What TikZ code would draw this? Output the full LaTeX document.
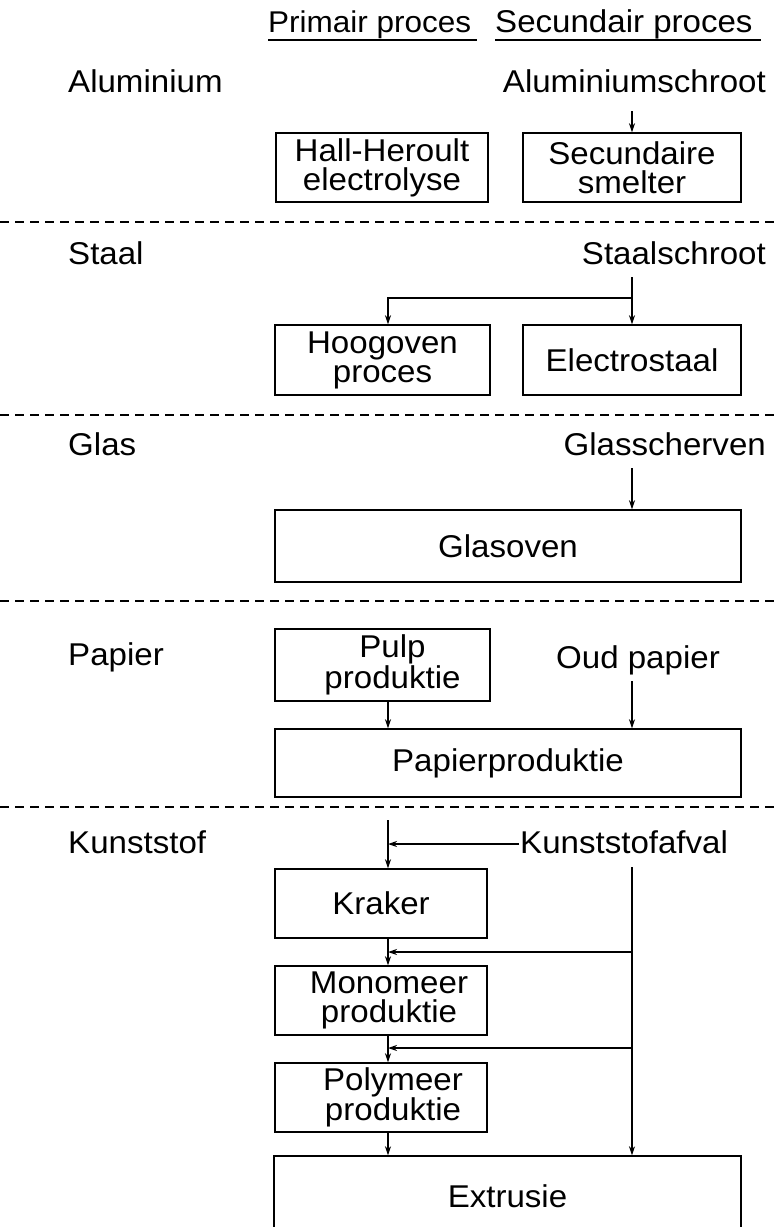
\documentclass[tikz,border=0pt]{standalone}
\usepackage{fontspec}
\setmainfont[FakeStretch=1.05]{Liberation Sans}
\usetikzlibrary{arrows.meta}
\begin{document}
\begin{tikzpicture}[x=1pt,y=-1pt,
  lbl/.style={inner sep=0pt, font=\fontsize{31.5}{29}\selectfont},
  box/.style={draw, line width=1.4pt, inner sep=0pt, align=center, font=\fontsize{31.5}{29}\selectfont},
  narrowbox/.style={box, minimum width=212pt, minimum height=69pt},
  widebox/.style={box, minimum width=466pt, minimum height=70pt},
  arr/.style={line width=1.4pt, -{Stealth[length=9pt,width=6pt]}},
  ln/.style={line width=1.4pt},
  sepline/.style={line width=1.5pt, dash pattern=on 9pt off 6pt}]
\useasboundingbox (0,0) rectangle (779,1227);
% headers
\node[lbl, anchor=base west, font=\fontsize{30}{29}\selectfont] (hp) at (268,32) {Primair proces};
\node[lbl, anchor=base west] (hs) at (495,32) {Secundair proces};
\draw[ln] ([yshift=-8pt]hp.base west) -- ([yshift=-8pt,xshift=6pt]hp.base east);
\draw[ln] ([yshift=-8pt]hs.base west) -- ([yshift=-8pt,xshift=8pt]hs.base east);
% separators
\coordinate (s1l) at (0,222); \coordinate (s1r) at (779,222);
\coordinate (s2l) at (0,415); \coordinate (s2r) at (779,415);
\coordinate (s3l) at (0,601); \coordinate (s3r) at (779,601);
\coordinate (s4l) at (0,807); \coordinate (s4r) at (779,807);
\draw[sepline] (s1l) -- (s1r);
\draw[sepline] (s2l) -- (s2r);
\draw[sepline] (s3l) -- (s3r);
\draw[sepline] (s4l) -- (s4r);
% Aluminium
\node[lbl, anchor=base west] (lal) at (68,92) {Aluminium};
\node[lbl, anchor=base east] (alus) at (766,92) {Aluminiumschroot};
\node[narrowbox] (hall) at (382,167.5) {Hall-Heroult\\electrolyse};
\node[box, minimum width=218pt, minimum height=69pt] (smelt) at (632,167.5) {Secundaire\\smelter};
\coordinate (a1) at (632,111);
\draw[arr] (a1) -- (a1 |- smelt.north);
% Staal
\node[lbl, anchor=base west] (lst) at (68,264) {Staal};
\node[lbl, anchor=base east] (sts) at (766,264) {Staalschroot};
\node[box, minimum width=215pt, minimum height=70pt] (hoog) at (382.5,360) {Hoogoven\\proces};
\node[box, minimum width=218pt, minimum height=70pt] (elec) at (632,360) {Electrostaal};
\coordinate (b1) at (632,277);
\coordinate (b2) at (632,298);
\coordinate (b3) at (388,298);
\draw[arr] (b1) -- (b1 |- elec.north);
\draw[arr] (b2) -- (b3) -- (b3 |- hoog.north);
% Glas
\node[lbl, anchor=base west] (lgl) at (68,455) {Glas};
\node[lbl, anchor=base east] (gls) at (766,455) {Glasscherven};
\node[widebox, minimum height=72pt] (glov) at (508,546) {Glasoven};
\coordinate (c1) at (632,468);
\draw[arr] (c1) -- (c1 |- glov.north);
% Papier
\node[lbl, anchor=base west] (lpa) at (68,665) {Papier};
\node[box, minimum width=215pt, minimum height=72pt] (pulp) at (382.5,665) {\hspace*{20pt}Pulp\\\hspace*{20pt}produktie};
\node[lbl, anchor=base] (oud) at (638,668) {Oud papier};
\node[widebox, minimum height=68pt] (papp) at (508,763) {Papierproduktie};
\coordinate (d1) at (632,681);
\draw[arr] (d1) -- (d1 |- papp.north);
\draw[arr] (pulp.south -| 388,0) -- (papp.north -| 388,0);
% Kunststof
\node[lbl, anchor=base west] (lku) at (68,853) {Kunststof};
\node[lbl, anchor=base west] (kua) at (520,853) {Kunststofafval};
\node[narrowbox] (krak) at (381,903.5) {Kraker};
\node[narrowbox] (mono) at (381,1000.5) {\hspace*{16pt}Monomeer\\\hspace*{16pt}produktie};
\node[narrowbox] (poly) at (381,1097.5) {\hspace*{24pt}Polymeer\\\hspace*{24pt}produktie};
\node[box, minimum width=467pt, minimum height=80pt] (extr) at (507.5,1196) {Extrusie};
\coordinate (e0) at (388,820);
\coordinate (e1) at (519,844);
\coordinate (e2) at (388,844);
\draw[arr] (e0) -- (e0 |- krak.north);
\draw[arr] (e1) -- (e2);
\coordinate (f0) at (632,867);
\coordinate (f1) at (632,952);
\coordinate (f2) at (388,952);
\coordinate (f3) at (632,1048);
\coordinate (f4) at (388,1048);
\draw[arr] (f0) -- (f0 |- extr.north);
\draw[arr] (f1) -- (f2);
\draw[arr] (f3) -- (f4);
\draw[arr] (krak.south -| f2) -- (mono.north -| f2);
\draw[arr] (mono.south -| f4) -- (poly.north -| f4);
\draw[arr] (poly.south -| f4) -- (extr.north -| f4);
\end{tikzpicture}
\end{document}
